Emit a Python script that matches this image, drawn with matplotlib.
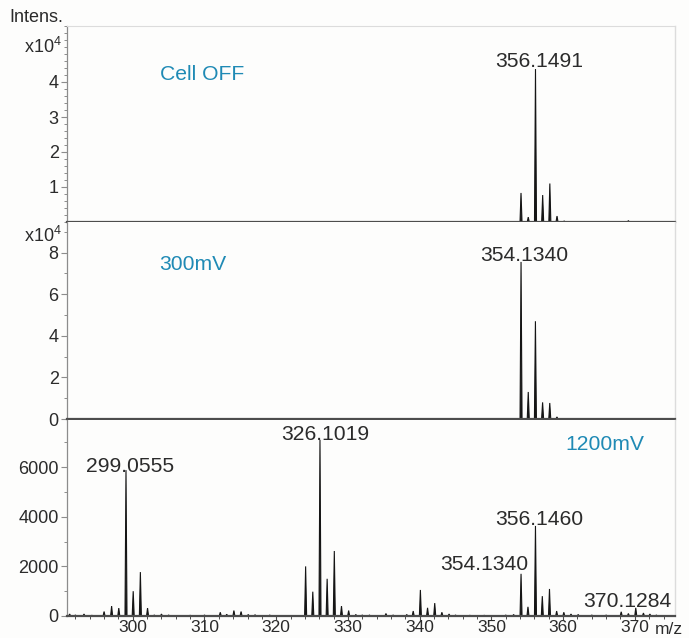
import numpy as np
import matplotlib
matplotlib.use("Agg")
import matplotlib.pyplot as plt
from matplotlib.ticker import MultipleLocator, FixedLocator

plt.rcParams['font.family'] = ['Liberation Sans', 'DejaVu Sans']
plt.rcParams['mathtext.fontset'] = 'custom'
plt.rcParams['mathtext.rm'] = 'Liberation Sans'

# ---------------- data ----------------
# Cell OFF (intensity x10^4)
off_mz = [354.13, 355.14, 356.1491, 357.15, 358.15, 359.15, 360.15, 369.1]
off_int = [0.83, 0.14, 4.37, 0.77, 1.10, 0.17, 0.03, 0.04]

# 300 mV (intensity x10^4)
mv300_mz = [354.1340, 355.14, 356.14, 357.14, 358.14, 359.14]
mv300_int = [7.55, 1.30, 4.70, 0.80, 0.77, 0.10]

# 1200 mV (absolute intensity)
mv1200_mz = [291.2, 292.0, 293.2, 294.3, 296.0, 297.05, 298.05, 299.0555, 300.06, 301.06,
             302.06, 303.0, 304.0, 305.0, 308.0, 310.0, 312.2, 313.1, 314.1, 315.1,
             316.1, 317.05, 319.1, 324.1, 325.1, 326.1019, 327.1, 328.1, 329.1, 330.1,
             331.1, 332.0, 333.0, 335.3, 336.3, 338.2, 339.1, 340.1, 341.1, 342.1,
             343.1, 344.1, 345.0, 347.0, 349.0, 352.0, 353.1, 354.1340, 355.1, 356.1460,
             357.1, 358.1, 359.1, 360.1, 361.1, 362.1, 364.0, 366.0, 368.1, 369.1,
             370.1284, 371.2, 372.1, 373.0]
mv1200_int = [80, 40, 80, 30, 180, 400, 320, 5880, 1000, 1770,
              320, 40, 80, 40, 30, 40, 150, 70, 220, 180,
              60, 50, 40, 2000, 980, 7100, 1500, 2620, 400, 220,
              60, 40, 40, 100, 40, 60, 200, 1050, 330, 520,
              150, 80, 40, 30, 30, 40, 60, 1700, 370, 3630,
              800, 1090, 200, 150, 80, 60, 40, 40, 170, 100,
              330, 120, 80, 40]

x_ticks = [300, 310, 320, 330, 340, 350, 360, 370]
x_ticklabels = ['300', '310', '320', '330', '340', '350', '360', '370']

# labelled peaks: (text, mz, offset_px_x, offset_px_y)
off_labels = [('356.1491', 356.1491, 3.5, 2)]
mv300_labels = [('354.1340', 354.1340, 3, 1)]
mv1200_labels = [('299.0555', 299.0555, 4.5, -2), ('326.1019', 326.1019, 5, 0),
                 ('356.1460', 356.1460, 4, 1), ('354.1340', 354.1340, -37, 4),
                 ('370.1284', 370.1284, -8, 1)]

# ---------------- style ----------------
PEAK = '#151515'
BASE = '#4d4d4d'
AXG = '#8c8c8c'
LIGHT = '#dcdcdc'
TEAL = '#1f8ab5'
TXT = '#2b2b2b'
FS_TICK = 13
FS_LAB = 15.2

fig = plt.figure(figsize=(6.89, 6.38), dpi=100)
fig.patch.set_facecolor('#fdfdfc')

L, W = 67 / 689, (675 - 67) / 689
def fy(p):
    return 1 - p / 638

ax1 = fig.add_axes([L, fy(222), W, fy(26) - fy(222)])
ax2 = fig.add_axes([L, fy(419), W, fy(222) - fy(419)])
ax3 = fig.add_axes([L, fy(616), W, fy(420) - fy(616)])

xlim = (290.83, 375.6)

def draw_peaks(ax, mz, inten, hw=0.14):
    for m, h in zip(mz, inten):
        xs = [m - hw, m, m + hw]
        ys = [0, h, 0]
        ax.fill(xs, ys, color=PEAK, lw=0.8, ec=PEAK)

def label_peaks(ax, labels, mz, inten):
    lookup = dict(zip(mz, inten))
    for txt, m, dx, dy in labels:
        ax.annotate(txt, (m, lookup[m]), xytext=(dx * 0.72, dy * 0.72),
                    textcoords='offset points', ha='center', va='baseline',
                    fontsize=FS_LAB, color=TXT)

for ax in (ax1, ax2, ax3):
    ax.set_facecolor('#fdfdfc')
    ax.set_xlim(*xlim)
    ax.spines['left'].set_color(AXG)
    ax.spines['left'].set_linewidth(0.9)
    ax.spines['right'].set_color(LIGHT)
    ax.spines['right'].set_linewidth(1.0)
    ax.spines['bottom'].set_color(BASE)
    ax.spines['bottom'].set_linewidth(1.6)
    ax.spines['top'].set_visible(False)
    ax.tick_params(axis='y', which='major', direction='out', length=4, width=0.8,
                   color=AXG, labelsize=FS_TICK, labelcolor=TXT, pad=2)
    ax.tick_params(axis='y', which='minor', direction='out', length=2.5, width=0.7, color=AXG)

ax1.spines['top'].set_visible(True)
ax1.spines['top'].set_color(LIGHT)

# top panel
draw_peaks(ax1, off_mz, off_int)
ax1.set_ylim(0, 5.6)
ax1.yaxis.set_major_locator(FixedLocator([1, 2, 3, 4]))
ax1.yaxis.set_minor_locator(MultipleLocator(0.2))
ax1.set_xticks([])
label_peaks(ax1, off_labels, off_mz, off_int)

# middle panel
draw_peaks(ax2, mv300_mz, mv300_int)
ax2.set_ylim(0, 9.47)
ax2.yaxis.set_major_locator(FixedLocator([0, 2, 4, 6, 8]))
ax2.yaxis.set_minor_locator(MultipleLocator(1))
ax2.set_xticks([])
label_peaks(ax2, mv300_labels, mv300_mz, mv300_int)

# bottom panel
draw_peaks(ax3, mv1200_mz, mv1200_int)
ax3.set_ylim(0, 7900)
ax3.yaxis.set_major_locator(FixedLocator([0, 2000, 4000, 6000]))
ax3.yaxis.set_minor_locator(MultipleLocator(1000))
ax3.set_xticks(x_ticks)
ax3.set_xticklabels(x_ticklabels)
ax3.xaxis.set_minor_locator(MultipleLocator(2))
ax3.tick_params(axis='x', which='major', direction='out', length=3, width=0.8,
                color=BASE, labelsize=12.5, labelcolor=TXT, pad=0)
ax3.tick_params(axis='x', which='minor', direction='out', length=2, width=0.7, color=BASE)
label_peaks(ax3, mv1200_labels, mv1200_mz, mv1200_int)

# condition labels
ax1.text(160 / 689, fy(74), 'Cell OFF', transform=fig.transFigure, color=TEAL,
         fontsize=FS_LAB, ha='left', va='center')
ax2.text(159 / 689, fy(265), '300mV', transform=fig.transFigure, color=TEAL,
         fontsize=FS_LAB, ha='left', va='center')
ax3.text(565 / 689, fy(444), '1200mV', transform=fig.transFigure, color=TEAL,
         fontsize=FS_LAB, ha='left', va='center')

# axis annotations
fig.text(9 / 689, fy(18), 'Intens.', fontsize=FS_TICK, color=TXT, ha='left', va='center')
fig.text(62 / 689, fy(53), r'x10$^{\mathregular{4}}$', fontsize=FS_TICK, color=TXT,
         ha='right', va='baseline')
fig.text(62 / 689, fy(242), r'x10$^{\mathregular{4}}$', fontsize=FS_TICK, color=TXT,
         ha='right', va='baseline')
fig.text(655 / 689, fy(629), 'm/z', fontsize=12.5, color=TXT, ha='left', va='center')

fig.savefig('out.png', dpi=100, facecolor=fig.get_facecolor())
